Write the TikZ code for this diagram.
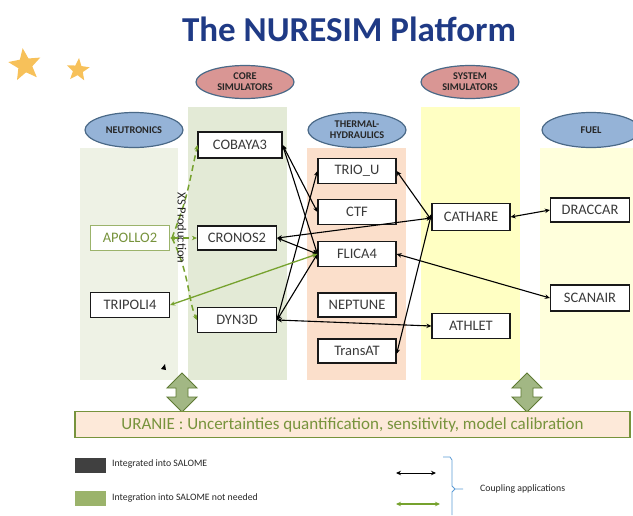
\documentclass[tikz,border=0pt]{standalone}
\usepackage{fontspec}
\setmainfont{Carlito}
\usetikzlibrary{shapes.geometric,arrows.meta}
\definecolor{titleblue}{HTML}{1F3A85}
\definecolor{starorange}{HTML}{F7C15A}
\definecolor{ellblue}{HTML}{95B3D7}
\definecolor{elledge}{HTML}{4A6987}
\definecolor{ellpink}{HTML}{D99694}
\definecolor{neubg}{HTML}{EEF2E5}
\definecolor{corebg}{HTML}{E3EAD6}
\definecolor{thbg}{HTML}{FBDFCB}
\definecolor{sysbg}{HTML}{FFFFC3}
\definecolor{fuelbg}{HTML}{FFFFDC}
\definecolor{uraniefill}{HTML}{FDE9D9}
\definecolor{uraniegreen}{HTML}{77933C}
\definecolor{bigarrowfill}{HTML}{A2B784}
\definecolor{bigarrowedge}{HTML}{5E7A33}
\definecolor{legdark}{HTML}{404040}
\definecolor{leggreen}{HTML}{9BB36B}
\definecolor{linkgreen}{HTML}{76A22E}
\definecolor{braceblue}{HTML}{5B9BD5}
\definecolor{boxtext}{HTML}{3A3A3A}
\tikzset{
  stk/.tip={Stealth[length=5pt,width=4.5pt]},
  category/.style={ellipse, draw=elledge, line width=1.2pt, fill=ellblue, minimum width=98pt, minimum height=35pt, inner sep=0pt, align=center, font=\fontsize{10.3}{11}\selectfont\bfseries, text=black!85},
  catpink/.style={category, fill=ellpink, minimum height=33pt},
  code/.style={draw=black!90, line width=1.2pt, fill=white, minimum width=79pt, minimum height=25pt, inner sep=0pt, font=\fontsize{14.5}{15}\selectfont, text=boxtext},
  greencode/.style={code, draw=leggreen, text=uraniegreen},
  conn/.style={draw=black, line width=1.1pt, stk-stk},
  greenconn/.style={draw=linkgreen, line width=1.3pt, stk-stk},
  greendash/.style={draw=linkgreen, line width=1.5pt, dash pattern=on 6pt off 4pt},
  bigarrow/.style={draw=bigarrowedge, line width=0.9pt, fill=bigarrowfill},
  legtext/.style={anchor=west, font=\fontsize{9.8}{11}\selectfont, text=black!85, inner sep=0pt},
  starshape/.style={star, star points=5, star point ratio=2.3, fill=starorange, draw=none, inner sep=0pt}
}
\begin{document}
\begin{tikzpicture}[x=1pt,y=-1pt]
\useasboundingbox (0,0) rectangle (633,515);
% title
\node[font=\fontsize{35}{40}\selectfont\bfseries, text=titleblue] (title) at (349,29) {The NURESIM Platform};
% stars
\node[starshape, minimum size=34pt, rotate=8] (star1) at (25,65) {};
\node[starshape, minimum size=24pt, rotate=-5] (star2) at (78,70) {};
% column backgrounds
\fill[neubg] (80,148) rectangle (178,380);
\fill[corebg] (188,107) rectangle (287,380);
\fill[thbg] (307,148) rectangle (406,380);
\fill[sysbg] (421,107) rectangle (520,380);
\fill[fuelbg] (540,148) rectangle (633,380);
% category ellipses
\node[category] (neut) at (134,130) {NEUTRONICS};
\node[catpink] (core) at (245,82) {CORE\\SIMULATORS};
\node[category] (th) at (357,130) {THERMAL-\\HYDRAULICS};
\node[catpink] (sys) at (470,82) {SYSTEM\\SIMULATORS};
\node[category] (fuel) at (591,130) {FUEL};
% code boxes
\node[greencode] (APOLLO2) at (130,238) {APOLLO2};
\node[code] (TRIPOLI4) at (130,305) {TRIPOLI4};
\node[code, minimum width=84pt, minimum height=26pt] (COBAYA3) at (240,145) {COBAYA3};
\node[code, minimum height=24pt] (CRONOS2) at (237,238) {CRONOS2};
\node[code] (DYN3D) at (237,320) {DYN3D};
\node[code, minimum width=78pt] (TRIOU) at (357,171) {TRIO\_U};
\node[code, minimum width=78pt] (CTF) at (357,212) {CTF};
\node[code, minimum width=78pt] (FLICA4) at (357,254) {FLICA4};
\node[code, minimum width=78pt, minimum height=24pt] (NEPTUNE) at (357,305) {NEPTUNE};
\node[code, minimum width=78pt, minimum height=24pt] (TransAT) at (357,351) {TransAT};
\node[code, minimum width=78pt, minimum height=27pt] (CATHARE) at (471,217) {CATHARE};
\node[code, minimum width=78pt] (ATHLET) at (471,326) {ATHLET};
\node[code, minimum height=24pt] (DRACCAR) at (590,210) {DRACCAR};
\node[code, minimum height=26pt] (SCANAIR) at (590,298) {SCANAIR};
% black couplings
\draw[conn] (COBAYA3.east) -- (CTF.west);
\draw[conn] (COBAYA3.east) -- (FLICA4.west);
\draw[conn] (DYN3D.east) -- (TRIOU.west);
\draw[conn] (DYN3D.east) -- (FLICA4.west);
\draw[conn] (DYN3D.east) -- (ATHLET.west);
\draw[conn] (CRONOS2.east) -- (FLICA4.west);
\draw[conn] (CRONOS2.east) -- ([yshift=-1pt]CATHARE.west);
\draw[conn] (TRIOU.east) -- ([yshift=-3pt]CATHARE.west);
\draw[conn] ([yshift=-3pt]TransAT.east) -- ([yshift=3pt]CATHARE.west);
\draw[conn] (CATHARE.east) -- (DRACCAR.west);
\draw[conn] (FLICA4.east) -- (SCANAIR.west);
% green couplings
\draw[greenconn] (TRIPOLI4.east) -- (FLICA4.west);
\draw[greendash, stk-stk] (APOLLO2.east) -- (CRONOS2.west);
\coordinate (xsstart) at (172,238);
\draw[greendash, -stk] (xsstart) .. controls (186,200) .. (COBAYA3.west);
\draw[greendash, -stk] (xsstart) .. controls (190,275) and (188,300) .. (DYN3D.west);
\node[rotate=-90, font=\fontsize{12.5}{13}\selectfont, text=black!85, inner sep=1pt] (xs) at (182,228) {XS Production};
% small mark
\fill[black] (161,369) -- (165,364) -- (166,370) -- cycle;
% big double arrows
\draw[bigarrow] (182,373) -- (197,388) -- (188,388) -- (188,397) -- (197,397) -- (182,412) -- (167,397) -- (176,397) -- (176,388) -- (167,388) -- cycle;
\draw[bigarrow] (527,373) -- (542,388) -- (533,388) -- (533,397) -- (542,397) -- (527,412) -- (512,397) -- (521,397) -- (521,388) -- (512,388) -- cycle;
% URANIE
\node[draw=uraniegreen, line width=1.3pt, fill=uraniefill, minimum width=555pt, minimum height=26pt, inner sep=0pt, text=uraniegreen, font=\fontsize{17}{18}\selectfont] (uranie) at (352.5,424.5) {URANIE : Uncertainties quantification, sensitivity, model calibration};
% legend
\fill[legdark] (75,458) rectangle (106,473);
\node[legtext] (leg1) at (112,464) {Integrated into SALOME};
\fill[leggreen] (75,491) rectangle (106,506);
\node[legtext] (leg2) at (112,498) {Integration into SALOME not needed};
\coordinate (lb1) at (396,473);
\coordinate (lb2) at (436,473);
\draw[conn, line width=1pt] (lb1) -- (lb2);
\coordinate (lg1) at (396,504);
\coordinate (lg2) at (440,504);
\draw[greenconn, line width=1.6pt] (lg1) -- (lg2);
\draw[braceblue, line width=0.8pt] (443,457) -- (450,457) -- (452,460) -- (452,486) -- (455,489) -- (463,489);
\draw[braceblue, line width=0.8pt] (455,489) -- (452,492) -- (452,515);
\node[legtext] (leg3) at (480,489) {Coupling applications};
\end{tikzpicture}
\end{document}
